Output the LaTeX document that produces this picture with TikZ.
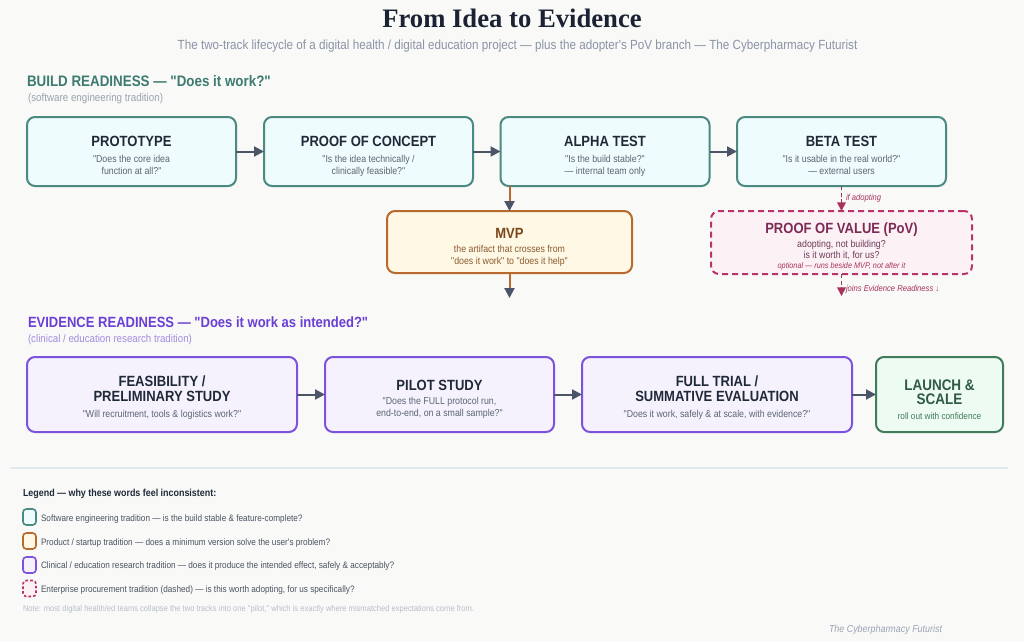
\documentclass[tikz,border=0pt]{standalone}
\usepackage{fontspec}
\setmainfont{Liberation Sans}[FakeStretch=0.88, Ligatures=TeXOff]
\newfontfamily\titlefont{Liberation Serif}
\usetikzlibrary{arrows.meta}
\definecolor{bg}{HTML}{F9F9F8}
\definecolor{titlec}{HTML}{1A2233}
\definecolor{subc}{HTML}{8A94A6}
\definecolor{bhead}{HTML}{3D7A70}
\definecolor{bsub}{HTML}{9AA3AD}
\definecolor{bd}{HTML}{4A8A80}
\definecolor{bf}{HTML}{EFFCFD}
\definecolor{ttlc}{HTML}{1F2937}
\definecolor{qtc}{HTML}{5B6472}
\definecolor{arr}{HTML}{4A5568}
\definecolor{md}{HTML}{B8692E}
\definecolor{mf}{HTML}{FFF8E5}
\definecolor{mt}{HTML}{7A4519}
\definecolor{mq}{HTML}{8A5A30}
\definecolor{pd}{HTML}{B8336A}
\definecolor{pf}{HTML}{FCF1F5}
\definecolor{pt}{HTML}{7D2A55}
\definecolor{pq}{HTML}{6E3A58}
\definecolor{pa}{HTML}{A8325E}
\definecolor{ehead}{HTML}{6B3FD4}
\definecolor{esub}{HTML}{A58BE0}
\definecolor{ed}{HTML}{7D52DC}
\definecolor{ef}{HTML}{F5F2FE}
\definecolor{ld}{HTML}{3F7D5A}
\definecolor{lf}{HTML}{EEFBF2}
\definecolor{lt}{HTML}{2F5A45}
\definecolor{lq}{HTML}{3F7A5A}
\definecolor{divc}{HTML}{E3E8EF}
\definecolor{legc}{HTML}{4A5260}
\definecolor{notec}{HTML}{B8BEC8}
\definecolor{footc}{HTML}{9AA3B5}
\tikzset{
  every node/.style={inner sep=0pt, outer sep=0pt},
  stage/.style={draw, line width=1.5pt, rounded corners=6pt},
  buildbox/.style={stage, draw=bd, fill=bf},
  mvpbox/.style={stage, draw=md, fill=mf},
  povbox/.style={stage, draw=pd, fill=pf, dash pattern=on 4.5pt off 3pt},
  evidbox/.style={stage, draw=ed, fill=ef},
  launchbox/.style={stage, draw=ld, fill=lf},
  ttl/.style={anchor=base, align=center, font=\bfseries\fontsize{11.1}{11}\selectfont, text=ttlc},
  qt/.style={anchor=base, align=center, font=\fontsize{7.5}{9}\selectfont, text=qtc},
  flow/.style={draw=arr, line width=1.5pt, -{Triangle[length=7.5pt,width=7.5pt]}},
  mvpflow/.style={draw=md, line width=1.5pt, -{Triangle[length=7.5pt,width=7.5pt,color=arr]}},
  povflow/.style={draw=pa, line width=1.2pt, dash pattern=on 3pt off 2pt, -{Triangle[length=6.5pt,width=6.5pt]}},
  povlbl/.style={anchor=base west, font=\itshape\fontsize{6.5}{8}\selectfont, text=pa},
  legsq/.style={line width=1.2pt, rounded corners=2.5pt, minimum width=9.75pt, minimum height=12pt},
  legtxt/.style={anchor=base west, font=\fontsize{7}{8}\selectfont, text=legc},
}
\begin{document}
\begin{tikzpicture}[x=0.75pt, y=-0.75pt]
\path[fill=bg] (0,0) rectangle (1024,642);
\useasboundingbox (0,0) rectangle (1024,642);

% title
\node[anchor=base, font=\titlefont\bfseries\fontsize{20}{24}\selectfont, text=titlec] (title) at (512,28) {From Idea to Evidence};
\node[anchor=base, font=\fontsize{9.95}{11}\selectfont, text=subc] (subtitle) at (517.5,49.5) {The two-track lifecycle of a digital health / digital education project — plus the adopter's PoV branch — The Cyberpharmacy Futurist};

% build readiness header
\node[anchor=base west, font=\bfseries\fontsize{11.4}{13}\selectfont, text=bhead] (bhead) at (27,87) {BUILD READINESS — "Does it work?"};
\node[anchor=base west, font=\fontsize{8.35}{10}\selectfont, text=bsub] (bsub) at (28,101) {(software engineering tradition)};

% top row
\node[buildbox, minimum width=156.75pt, minimum height=51.75pt] (proto) at (131.5,151.5) {};
\node[buildbox, minimum width=156.75pt, minimum height=51.75pt] (poc) at (368.5,151.5) {};
\node[buildbox, minimum width=156.75pt, minimum height=51.75pt] (alpha) at (605,151.5) {};
\node[buildbox, minimum width=156.75pt, minimum height=51.75pt] (beta) at (841.5,151.5) {};

\node[ttl] (protot) at (131.5,146) {PROTOTYPE};
\node[qt] (protoq) at (131.5,174) {"Does the core idea\\function at all?"};
\node[ttl] (poct) at (368.5,146) {PROOF OF CONCEPT};
\node[qt] (pocq) at (368.5,174) {"Is the idea technically /\\clinically feasible?"};
\node[ttl] (alphat) at (605,146) {ALPHA TEST};
\node[qt] (alphaq) at (605,174) {"Is the build stable?"\\— internal team only};
\node[ttl] (betat) at (841.5,146) {BETA TEST};
\node[qt] (betaq) at (841.5,174) {"Is it usable in the real world?"\\— external users};

\draw[flow] (proto) -- (poc);
\draw[flow] (poc) -- (alpha);
\draw[flow] (alpha) -- (beta);

% MVP
\node[mvpbox, minimum width=183.75pt, minimum height=46.5pt] (mvp) at (509.5,242) {};
\node[ttl, text=mt] (mvpt) at (509.5,238) {MVP};
\node[qt, text=mq] (mvpq) at (509.5,264.5) {the artifact that crosses from\\"does it work" to "does it help"};
\draw[mvpflow] (alpha.south -| mvp.north) -- (mvp.north);
\coordinate (mvpout) at (509.5,298);
\draw[mvpflow] (mvp.south) -- (mvpout);

% PoV
\node[povbox, minimum width=195.75pt, minimum height=47.25pt] (pov) at (841.5,242.5) {};
\node[ttl, text=pt] (povt) at (841.5,233) {PROOF OF VALUE (PoV)};
\node[qt, text=pq, font=\fontsize{7.5}{8.3}\selectfont] (povq) at (841.5,258.8) {adopting, not building?\\is it worth it, for us?};
\node[anchor=base, font=\itshape\fontsize{6.2}{8}\selectfont, text=pa] (povn) at (841.5,268.5) {optional — runs beside MVP, not after it};
\draw[povflow] (beta.south) -- (pov.north);
\node[povlbl] (ifad) at (846,200.5) {if adopting};
\coordinate (povout) at (841.5,296);
\draw[povflow] (pov.south) -- (povout);
\node[povlbl] (joins) at (846,291) {joins Evidence Readiness ↓};

% evidence readiness header
\node[anchor=base west, font=\bfseries\fontsize{11.1}{13}\selectfont, text=ehead] (ehead) at (28,327) {EVIDENCE READINESS — "Does it work as intended?"};
\node[anchor=base west, font=\fontsize{8.3}{10}\selectfont, text=esub] (esub) at (28,342.5) {(clinical / education research tradition)};

% bottom row
\node[evidbox, minimum width=202.5pt, minimum height=56.25pt] (feas) at (162,394.5) {};
\node[evidbox, minimum width=171.75pt, minimum height=56.25pt] (pilot) at (439.5,394.5) {};
\node[evidbox, minimum width=202.5pt, minimum height=56.25pt] (full) at (717,394.5) {};
\node[launchbox, minimum width=95.25pt, minimum height=56.25pt] (launch) at (939.5,394.5) {};

\node[ttl] (feast) at (162,401) {FEASIBILITY /\\PRELIMINARY STUDY};
\node[qt] (feasq) at (162,417.5) {"Will recruitment, tools \& logistics work?"};
\node[ttl] (pilott) at (439.5,390.3) {PILOT STUDY};
\node[qt] (pilotq) at (439.5,416.8) {"Does the FULL protocol run,\\end-to-end, on a small sample?"};
\node[ttl] (fullt) at (717,401) {FULL TRIAL /\\SUMMATIVE EVALUATION};
\node[qt] (fullq) at (717,417.5) {"Does it work, safely \& at scale, with evidence?"};
\node[ttl, text=lt, font=\bfseries\fontsize{11.5}{10.7}\selectfont] (launcht) at (939.5,404.6) {LAUNCH \&\\SCALE};
\node[qt, text=lq, font=\fontsize{7}{9}\selectfont] (launchq) at (939.5,419) {roll out with confidence};

\draw[flow] (feas) -- (pilot);
\draw[flow] (pilot) -- (full);
\draw[flow] (full) -- (launch);

% divider
\draw[draw=divc, line width=1pt] (10,468) -- (1008,468);

% legend
\node[anchor=base west, font=\bfseries\fontsize{7.6}{9}\selectfont, text=ttlc] (legt) at (23,496.5) {Legend — why these words feel inconsistent:};
\node[legsq, draw=bd, fill=bf] (lg1) at (29.5,517) {};
\node[legsq, draw=md, fill=mf] (lg2) at (29.5,541) {};
\node[legsq, draw=ed, fill=ef] (lg3) at (29.5,565) {};
\node[legsq, draw=pd, fill=pf, dash pattern=on 2pt off 1.5pt] (lg4) at (29.5,588.5) {};
\node[legtxt] (lt1) at (41,521) {Software engineering tradition — is the build stable \& feature-complete?};
\node[legtxt] (lt2) at (41,545) {Product / startup tradition — does a minimum version solve the user's problem?};
\node[legtxt] (lt3) at (41,568.3) {Clinical / education research tradition — does it produce the intended effect, safely \& acceptably?};
\node[legtxt] (lt4) at (41,592) {Enterprise procurement tradition (dashed) — is this worth adopting, for us specifically?};
\node[anchor=base west, font=\fontsize{6.45}{8}\selectfont, text=notec] (note) at (23,611) {Note: most digital health/ed teams collapse the two tracks into one "pilot," which is exactly where mismatched expectations come from.};
\node[anchor=base west, font=\itshape\fontsize{7.6}{8}\selectfont, text=footc] (foot) at (829,632.5) {The Cyberpharmacy Futurist};
\end{tikzpicture}
\end{document}
